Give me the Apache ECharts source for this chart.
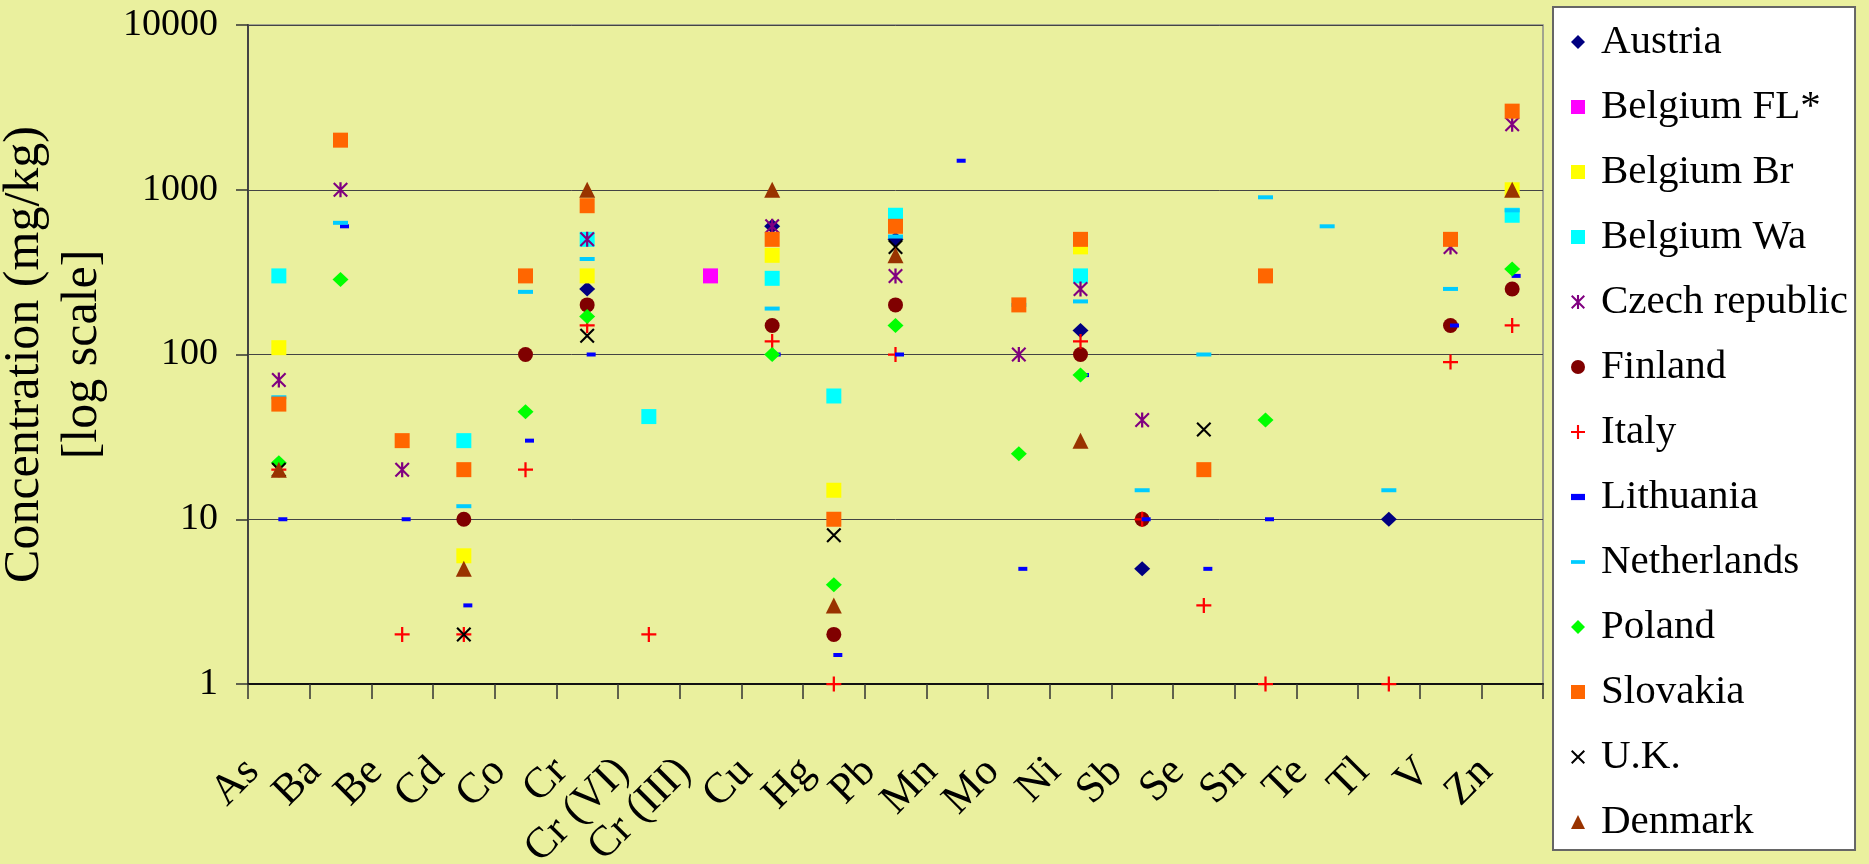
<!DOCTYPE html>
<html>
<head>
<meta charset="utf-8">
<script src="https://cdn.jsdelivr.net/npm/echarts@6/dist/echarts.min.js"></script>
<style>
  html, body { margin: 0; padding: 0; background: #EAF09E; }
  #chart { width: 1869px; height: 864px; }
</style>
</head>
<body>
<div id="chart"></div>
<script>
// elements on the x axis
const categories = ['As', 'Ba', 'Be', 'Cd', 'Co', 'Cr', 'Cr (VI)', 'Cr (III)', 'Cu', 'Hg', 'Pb', 'Mn', 'Mo', 'Ni', 'Sb', 'Se', 'Sn', 'Te', 'Tl', 'V', 'Zn']

// concentration limits per country (mg/kg), null = no value
//                 As    Ba    Be    Cd    Co    Cr    CrVI  CrIII Cu    Hg    Pb    Mn    Mo    Ni    Sb    Se    Sn    Te    Tl    V     Zn
const austria     = [null, null, null, null, null, 250,  null, null, 600,  null, 500,  null, null, 140,  5,    null, null, null, 10,   null, null]
const belgiumFL   = [null, null, null, null, null, null, null, 300,  null, null, null, null, null, null, null, null, null, null, null, null, null]
const belgiumBr   = [110,  null, null, 6,    null, 300,  null, null, 400,  15,   null, null, null, 450,  null, null, null, null, null, null, 1000]
const belgiumWa   = [300,  null, null, 30,   null, 500,  42,   null, 290,  56,   700,  null, null, 300,  null, null, null, null, null, null, 700]
const czech       = [70,   1000, 20,   null, null, 500,  null, null, 600,  null, 300,  null, 100,  250,  40,   null, null, null, null, 450,  2500]
const finland     = [null, null, null, 10,   100,  200,  null, null, 150,  2,    200,  null, null, 100,  10,   null, null, null, null, 150,  250]
const italy       = [20,   null, 2,    2,    20,   150,  2,    null, 120,  1,    100,  null, null, 120,  10,   3,    1,    null, 1,    90,   150]
const lithuania   = [10,   600,  10,   3,    30,   100,  null, null, 100,  1.5,  100,  1500, 5,    75,   10,   5,    10,   null, null, 150,  300]
const netherlands = [55,   630,  null, 12,   240,  380,  null, null, 190,  null, 520,  null, 200,  210,  15,   100,  900,  600,  15,   250,  750]
const poland      = [22,   285,  null, null, 45,   170,  null, null, 100,  4,    150,  null, 25,   75,   null, null, 40,   null, null, null, 330]
const slovakia    = [50,   2000, 30,   20,   300,  800,  null, null, 500,  10,   600,  null, 200,  500,  null, 20,   300,  null, null, 500,  3000]
const uk          = [20,   null, null, 2,    null, 130,  null, null, null, 8,    450,  null, null, null, null, 35,   null, null, null, null, null]
const denmark     = [20,   null, null, 5,    null, 1000, null, null, 1000, 3,    400,  null, null, 30,   null, null, null, null, null, null, 1000]

const yTicks = [1, 10, 100, 1000, 10000]

// marker shapes
const plusPath = 'path://M8.5,0h3v8.5h8.5v3h-8.5v8.5h-3v-8.5h-8.5v-3h8.5z'
const crossPath = 'path://M0,2L2,0L20,18L18,20Z M18,0L20,2L2,20L0,18Z'
const starPath = 'path://M0,2L2,0L20,18L18,20Z M18,0L20,2L2,20L0,18Z M8.5,0h3v20h-3z'
const longDash = 'path://M0,0h15v4h-15z'
const shortDash = 'path://M0,0h9v4h-9z'

const seriesDefs = [
  { name: 'Austria', data: austria, color: '#000080', symbol: 'diamond', size: [16, 15] },
  { name: 'Belgium FL*', data: belgiumFL, color: '#FF00FF', symbol: 'rect', size: 15 },
  { name: 'Belgium Br', data: belgiumBr, color: '#FFFF00', symbol: 'rect', size: 15 },
  { name: 'Belgium Wa', data: belgiumWa, color: '#00FFFF', symbol: 'rect', size: 15 },
  { name: 'Czech republic', data: czech, color: '#800080', symbol: starPath, size: 15 },
  { name: 'Finland', data: finland, color: '#800000', symbol: 'circle', size: 15 },
  { name: 'Italy', data: italy, color: '#FF0000', symbol: plusPath, size: 15 },
  { name: 'Lithuania', data: lithuania, color: '#0000FF', symbol: shortDash, size: [9, 4], offset: [4, 0] },
  { name: 'Netherlands', data: netherlands, color: '#00CCFF', symbol: longDash, size: [15, 4] },
  { name: 'Poland', data: poland, color: '#00FF00', symbol: 'diamond', size: [16, 15] },
  { name: 'Slovakia', data: slovakia, color: '#FF6600', symbol: 'rect', size: 15 },
  { name: 'U.K.', data: uk, color: '#000000', symbol: crossPath, size: 15 },
  { name: 'Denmark', data: denmark, color: '#993300', symbol: 'triangle', size: 16 }
]

const font = "'Liberation Serif', 'Times New Roman', serif"
const chart = echarts.init(document.getElementById('chart'))

const series = seriesDefs.map((s) => ({
  name: s.name,
  type: 'scatter',
  symbol: s.symbol,
  symbolSize: s.size,
  symbolOffset: s.offset || [0, 0],
  clip: false,
  itemStyle: { color: s.color, opacity: 1 },
  data: s.data.map((v) => (v == null ? '-' : v))
}))

chart.setOption({
  backgroundColor: '#EAF09E',
  animation: false,
  grid: {
    left: 248,
    top: 25,
    right: 326,
    bottom: 180,
    containLabel: false,
    outerBoundsMode: 'none',
    show: true,
    backgroundColor: '#EAF09E',
    borderColor: '#8a8a8a',
    borderWidth: 1.5
  },
  legend: {
    orient: 'vertical',
    left: 1553,
    top: 7,
    backgroundColor: '#ffffff',
    borderColor: '#666666',
    borderWidth: 2,
    padding: [13, 7, 6, 18],
    itemWidth: 14,
    itemHeight: 14,
    itemGap: 21,
    textStyle: {
      fontFamily: font,
      fontSize: 41,
      lineHeight: 44,
      color: '#000',
      padding: [0, 0, 0, 11]
    },
    data: seriesDefs.map((s) => s.name)
  },
  xAxis: {
    type: 'category',
    data: categories,
    boundaryGap: true,
    axisLine: { lineStyle: { color: '#111', width: 2 } },
    axisTick: { show: true, length: 15, interval: 0, lineStyle: { color: '#333', width: 1.5 } },
    axisLabel: {
      interval: 0,
      rotate: 45,
      margin: 55,
      padding: [0, 37, 0, 0],
      fontFamily: font,
      fontSize: 43,
      color: '#000'
    },
    splitLine: { show: false }
  },
  yAxis: {
    type: 'log',
    logBase: 10,
    min: yTicks[0],
    max: yTicks[yTicks.length - 1],
    name: 'Concentration (mg/kg)\n[log scale]',
    nameLocation: 'middle',
    nameGap: 106,
    nameTextStyle: { fontFamily: font, fontSize: 50, lineHeight: 58, color: '#000' },
    axisLine: { show: true, lineStyle: { color: '#444', width: 2 } },
    axisTick: { show: true, length: 12, lineStyle: { color: '#333', width: 1.5 } },
    axisLabel: {
      margin: 30,
      fontFamily: font,
      fontSize: 38,
      color: '#000',
      formatter: (v) => String(Math.round(v))
    },
    splitLine: { show: true, lineStyle: { color: '#444', width: 1 } }
  },
  series
})
</script>
</body>
</html>
